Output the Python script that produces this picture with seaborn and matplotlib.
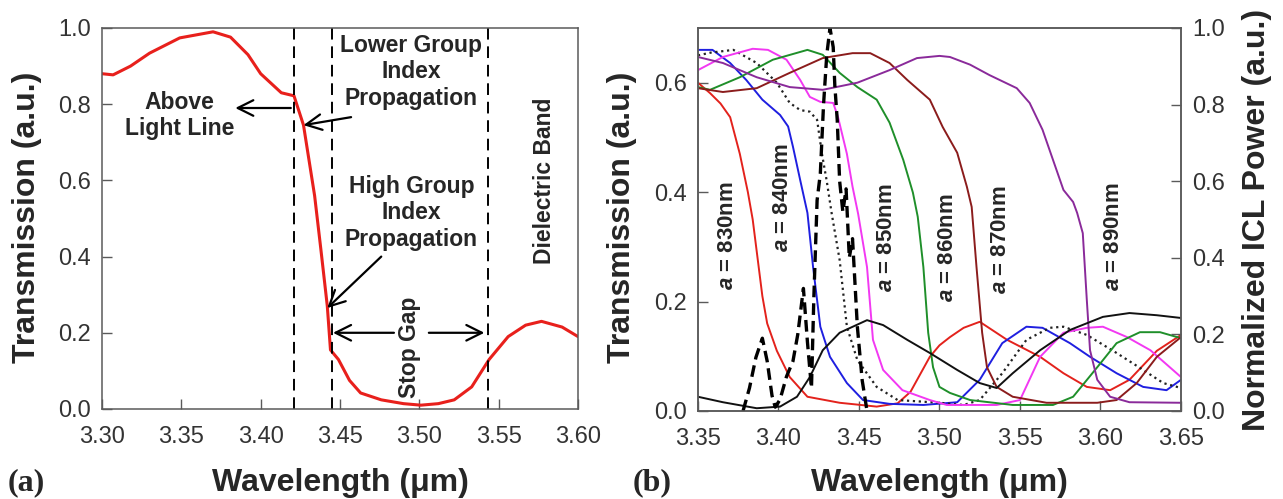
import matplotlib
matplotlib.use("Agg")
import matplotlib.pyplot as plt
import seaborn as sns

# ---------------- panel (a): single transmission spectrum ----------------
wl_a = [3.300, 3.307, 3.318, 3.330, 3.349, 3.370, 3.381, 3.392, 3.400, 3.413,
        3.419, 3.421, 3.427, 3.434, 3.438, 3.442, 3.444, 3.449, 3.456, 3.463,
        3.476, 3.490, 3.501, 3.512, 3.522, 3.533, 3.544, 3.556, 3.567, 3.577,
        3.590, 3.600]
tr_a = [0.880, 0.877, 0.900, 0.934, 0.974, 0.990, 0.976, 0.930, 0.880, 0.830,
        0.824, 0.822, 0.745, 0.560, 0.417, 0.270, 0.155, 0.130, 0.075, 0.042,
        0.024, 0.014, 0.010, 0.014, 0.024, 0.058, 0.130, 0.190, 0.220, 0.230,
        0.215, 0.190]
edges_a = [3.421, 3.445, 3.543]

# ---------------- panel (b): transmission for several lattice constants ----------------
wl_830 = [3.350, 3.3575, 3.364, 3.370, 3.376, 3.381, 3.384, 3.387, 3.390, 3.393,
          3.399, 3.407, 3.418, 3.438, 3.461, 3.474, 3.482, 3.494, 3.500, 3.5065,
          3.515, 3.525, 3.542, 3.5625, 3.577, 3.5915, 3.606, 3.618, 3.635, 3.650]
tr_830 = [0.600, 0.581, 0.562, 0.537, 0.470, 0.400, 0.350, 0.280, 0.210, 0.160,
          0.110, 0.062, 0.026, 0.015, 0.008, 0.014, 0.035, 0.099, 0.120, 0.135,
          0.152, 0.163, 0.130, 0.099, 0.069, 0.044, 0.038, 0.057, 0.110, 0.139]

wl_840 = [3.350, 3.359, 3.370, 3.380, 3.390, 3.401, 3.406, 3.409, 3.4135, 3.418,
          3.4215, 3.426, 3.432, 3.4425, 3.4525, 3.469, 3.490, 3.511, 3.525, 3.539,
          3.554, 3.564, 3.581, 3.5935, 3.610, 3.6265, 3.641, 3.650]
tr_840 = [0.660, 0.660, 0.636, 0.605, 0.569, 0.541, 0.520, 0.483, 0.422, 0.362,
          0.263, 0.154, 0.099, 0.051, 0.020, 0.013, 0.011, 0.016, 0.057, 0.124,
          0.154, 0.152, 0.124, 0.099, 0.069, 0.044, 0.038, 0.057]

wl_845 = [3.350, 3.358, 3.372, 3.3865, 3.399, 3.407, 3.4135, 3.4195, 3.424, 3.427,
          3.430, 3.433, 3.438, 3.4425, 3.449, 3.461, 3.474, 3.500, 3.515, 3.525,
          3.539, 3.554, 3.5685, 3.577, 3.5915, 3.610, 3.6265, 3.639, 3.650]
tr_845 = [0.650, 0.655, 0.660, 0.636, 0.600, 0.563, 0.550, 0.547, 0.532, 0.470,
          0.420, 0.362, 0.276, 0.154, 0.093, 0.044, 0.020, 0.015, 0.011, 0.020,
          0.069, 0.130, 0.152, 0.154, 0.139, 0.106, 0.075, 0.051, 0.042]

wl_850 = [3.350, 3.3655, 3.384, 3.3935, 3.405, 3.4135, 3.4195, 3.426, 3.434, 3.437,
          3.4425, 3.446, 3.4495, 3.455, 3.4587, 3.465, 3.477, 3.494, 3.5045,
          3.5355, 3.550, 3.5625, 3.577, 3.5915, 3.6015, 3.6165, 3.631, 3.650]
tr_850 = [0.623, 0.647, 0.662, 0.660, 0.642, 0.605, 0.574, 0.565, 0.563, 0.537,
          0.470, 0.410, 0.360, 0.263, 0.130, 0.075, 0.038, 0.020, 0.011,
          0.011, 0.020, 0.099, 0.143, 0.152, 0.154, 0.135, 0.111, 0.062]

wl_860 = [3.350, 3.3575, 3.376, 3.3965, 3.418, 3.4275, 3.438, 3.449, 3.461, 3.469,
          3.4775, 3.4835, 3.4865, 3.490, 3.493, 3.496, 3.500, 3.5065, 3.519, 3.5455,
          3.5705, 3.583, 3.598, 3.610, 3.6245, 3.637, 3.650]
tr_860 = [0.592, 0.587, 0.610, 0.642, 0.660, 0.651, 0.618, 0.592, 0.569, 0.527,
          0.459, 0.399, 0.355, 0.263, 0.143, 0.080, 0.044, 0.033, 0.020, 0.011,
          0.011, 0.026, 0.080, 0.124, 0.144, 0.144, 0.133]

wl_870 = [3.350, 3.3655, 3.3865, 3.407, 3.4275, 3.446, 3.457, 3.469, 3.480, 3.494,
          3.502, 3.511, 3.517, 3.520, 3.523, 3.5265, 3.5295, 3.5355, 3.5455, 3.5665,
          3.598, 3.610, 3.6225, 3.635, 3.650]
tr_870 = [0.590, 0.583, 0.590, 0.618, 0.645, 0.654, 0.654, 0.636, 0.605, 0.569,
          0.519, 0.472, 0.410, 0.373, 0.263, 0.143, 0.080, 0.044, 0.026, 0.015,
          0.015, 0.020, 0.051, 0.099, 0.135]

wl_890 = [3.350, 3.3655, 3.3865, 3.407, 3.4275, 3.449, 3.469, 3.486, 3.500, 3.5065,
          3.519, 3.531, 3.548, 3.556, 3.564, 3.5705, 3.577, 3.583, 3.5855, 3.589,
          3.5915, 3.5935, 3.598, 3.606, 3.618, 3.650]
tr_890 = [0.647, 0.636, 0.610, 0.592, 0.587, 0.600, 0.623, 0.645, 0.649, 0.647,
          0.633, 0.614, 0.590, 0.563, 0.514, 0.459, 0.404, 0.382, 0.362, 0.325,
          0.203, 0.111, 0.057, 0.026, 0.016, 0.015]

wl_blk = [3.350, 3.3655, 3.3865, 3.401, 3.4115, 3.4195, 3.4275, 3.438, 3.455, 3.465,
          3.480, 3.494, 3.511, 3.525, 3.5355, 3.5455, 3.5625, 3.581, 3.6015, 3.618,
          3.635, 3.650]
tr_blk = [0.026, 0.016, 0.005, 0.008, 0.026, 0.062, 0.111, 0.143, 0.166, 0.157,
          0.130, 0.106, 0.075, 0.051, 0.042, 0.069, 0.111, 0.148, 0.172, 0.179,
          0.175, 0.170]

# ICL emission spectrum (right axis)
wl_icl = [3.378, 3.382, 3.386, 3.390, 3.393, 3.396, 3.398, 3.401, 3.405, 3.409,
          3.412, 3.4155, 3.418, 3.4205, 3.422, 3.424, 3.426, 3.428, 3.430, 3.432,
          3.434, 3.435, 3.4365, 3.438, 3.440, 3.442, 3.444, 3.446, 3.449, 3.452, 3.455]
pw_icl = [0.00, 0.06, 0.14, 0.19, 0.13, 0.04, 0.01, 0.03, 0.09, 0.13,
          0.20, 0.32, 0.18, 0.06, 0.30, 0.55, 0.62, 0.80, 0.93, 1.00,
          0.95, 0.85, 0.76, 0.60, 0.52, 0.58, 0.40, 0.45, 0.22, 0.08, 0.00]

labels_b = ["830nm", "840nm", "850nm", "860nm", "870nm", "890nm"]
label_wl = [3.3686, 3.4028, 3.4674, 3.5047, 3.538, 3.6078]
label_tr = [0.32, 0.39, 0.316, 0.298, 0.313, 0.318]

sns.set_style("ticks")
plt.rcParams["font.family"] = ["Liberation Sans", "DejaVu Sans"]
plt.rcParams["mathtext.fontset"] = "custom"
plt.rcParams["mathtext.it"] = "Liberation Sans:italic:bold"
plt.rcParams["mathtext.rm"] = "Liberation Sans:bold"

spine_c = "#5a5a5a"
tick_c = "#333333"

fig = plt.figure(figsize=(12.83, 4.99), dpi=100)
ax1 = fig.add_axes([0.0795, 0.1804, 0.371, 0.7635])
ax2 = fig.add_axes([0.544, 0.1764, 0.3765, 0.7675])
ax3 = ax2.twinx()

# ---- (a)
sns.lineplot(x=wl_a, y=tr_a, ax=ax1, color="#e8201c", lw=2.2)
for e in edges_a:
    ax1.axvline(e, color="black", lw=1.4, ls=(0, (6, 3.5)))

ax1.set_xlim(3.30, 3.60)
ax1.set_ylim(0, 1.0)
ax1.set_xticks([3.30, 3.35, 3.40, 3.45, 3.50, 3.55, 3.60])
ax1.set_xticklabels(["3.30", "3.35", "3.40", "3.45", "3.50", "3.55", "3.60"])
ax1.set_yticks([0.0, 0.2, 0.4, 0.6, 0.8, 1.0])
ax1.set_yticklabels(["0.0", "0.2", "0.4", "0.6", "0.8", "1.0"])

ann = dict(fontsize=16.5, fontweight="bold", ha="center", va="center",
           linespacing=1.2)
arr = dict(arrowstyle="->", lw=1.6, color="black", mutation_scale=28,
           shrinkA=0, shrinkB=0)
ax1.text(3.349, 0.77, "Above\nLight Line", **ann)
ax1.annotate("", xy=(3.384, 0.79), xytext=(3.419, 0.79), arrowprops=arr)
ax1.text(3.495, 0.885, "Lower Group\nIndex\nPropagation", **ann)
ax1.annotate("", xy=(3.427, 0.745), xytext=(3.457, 0.766), arrowprops=arr)
ax1.text(3.495, 0.515, "High Group\nIndex\nPropagation", **ann)
ax1.annotate("", xy=(3.442, 0.265), xytext=(3.476, 0.40), arrowprops=arr)
ax1.text(3.494, 0.163, "Stop Gap", rotation=90, **ann)
ax1.annotate("", xy=(3.4456, 0.2), xytext=(3.484, 0.2), arrowprops=arr)
ax1.annotate("", xy=(3.541, 0.2), xytext=(3.506, 0.2), arrowprops=arr)
ax1.text(3.579, 0.60, "Dielectric Band", rotation=90, **ann)

# ---- (b)
curves = [(wl_830, tr_830, "#e3221c", "-"),
          (wl_840, tr_840, "#1f1fe0", "-"),
          (wl_845, tr_845, "#222222", ":"),
          (wl_850, tr_850, "#f238f2", "-"),
          (wl_860, tr_860, "#1f8f2a", "-"),
          (wl_870, tr_870, "#8b1c1c", "-"),
          (wl_890, tr_890, "#8a2a9a", "-"),
          (wl_blk, tr_blk, "#111111", "-")]
for wl, tr, c, ls in curves:
    sns.lineplot(x=wl, y=tr, ax=ax2, color=c, lw=1.6 if ls == ":" else 1.4,
                 linestyle=ls)

sns.lineplot(x=wl_icl, y=pw_icl, ax=ax3, color="black", lw=2.4)
ax3.lines[-1].set_dashes([3.5, 1.8])

for lab, x, y in zip(labels_b, label_wl, label_tr):
    ax2.text(x, y, "$a$ = " + lab, rotation=90, fontsize=16, fontweight="bold",
             ha="center", va="center")

ax2.set_xlim(3.35, 3.65)
ax2.set_ylim(0, 0.7)
ax3.set_ylim(0, 1.0)
ax2.set_xticks([3.35, 3.40, 3.45, 3.50, 3.55, 3.60, 3.65])
ax2.set_xticklabels(["3.35", "3.40", "3.45", "3.50", "3.55", "3.60", "3.65"])
ax2.set_yticks([0.0, 0.2, 0.4, 0.6])
ax2.set_yticklabels(["0.0", "0.2", "0.4", "0.6"])
ax3.set_yticks([0.0, 0.2, 0.4, 0.6, 0.8, 1.0])
ax3.set_yticklabels(["0.0", "0.2", "0.4", "0.6", "0.8", "1.0"])

for ax in (ax1, ax2, ax3):
    ax.tick_params(direction="in", length=7, width=1, color=spine_c,
                   labelsize=17, labelcolor=tick_c)
    ax.tick_params(axis="x", pad=12)
    ax.tick_params(axis="y", pad=8)
    for s in ax.spines.values():
        s.set_visible(True)
        s.set_color(spine_c)
        s.set_linewidth(1.1)
    ax.set_xlabel("")
    ax.set_ylabel("")
ax1.tick_params(top=False, right=False)
ax2.tick_params(top=False, right=False)

lab = dict(fontsize=23, fontweight="bold", ha="center")
fig.text(0.021, 0.565, "Transmission (a.u.)", rotation=90, va="center", **lab)
fig.text(0.485, 0.565, "Transmission (a.u.)", rotation=90, va="center", **lab)
fig.text(0.9797, 0.559, "Normalized ICL Power (a.u.)", rotation=90, va="center", **lab)
fig.text(0.2655, 0.016, "Wavelength (\u03bcm)", va="baseline", **lab)
fig.text(0.732, 0.016, "Wavelength (\u03bcm)", va="baseline", **lab)
fig.text(0.006, 0.018, "(a)", fontsize=23, fontweight="bold", va="baseline",
         family="Liberation Serif")
fig.text(0.4934, 0.018, "(b)", fontsize=23, fontweight="bold", va="baseline",
         family="Liberation Serif")

fig.savefig("out.png", dpi=100)
